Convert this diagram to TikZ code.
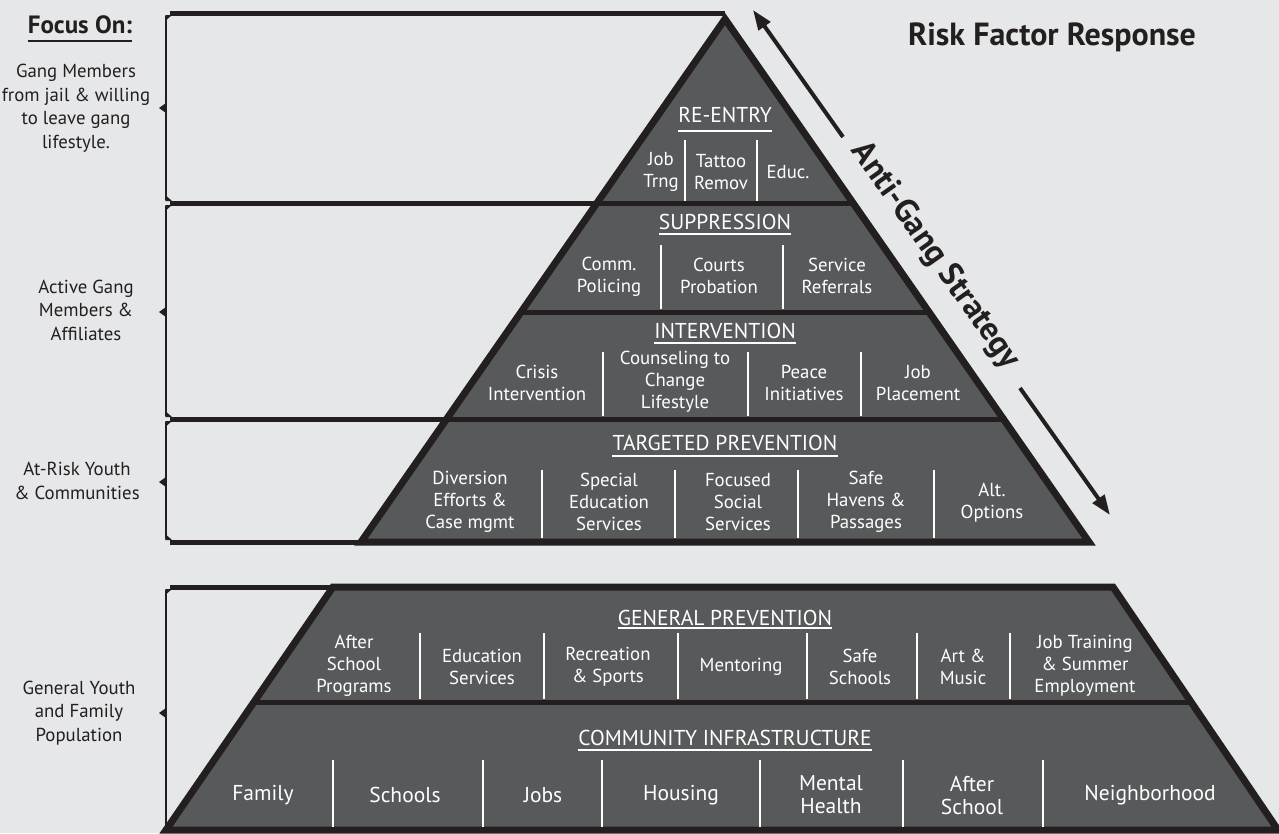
\documentclass[tikz,border=0pt]{standalone}
\usepackage{fontspec}
\setmainfont{PT Sans}
\usetikzlibrary{arrows.meta}
\definecolor{bg}{HTML}{E6E7E8}
\definecolor{dk}{HTML}{58595B}
\definecolor{ink}{HTML}{231F20}
\begin{document}
\begin{tikzpicture}[x=1pt,y=-1pt,
  body/.style={text=white,align=center,inner sep=0pt,font=\fontsize{18.8}{22}\selectfont},
  big/.style={text=white,align=center,inner sep=0pt,font=\fontsize{21.5}{23}\selectfont},
  head/.style={text=white,inner sep=0pt,anchor=base,font=\fontsize{21.5}{22}\selectfont},
  sidetxt/.style={text=ink,align=center,inner sep=0pt,font=\fontsize{18.8}{23.5}\selectfont},
  sepline/.style={draw=white,line width=2.5pt},
  uline/.style={draw=white,line width=1.6pt},
  band/.style={draw=ink,line width=5pt},
  shell/.style={draw=ink,line width=7pt,line join=miter},
  brk/.style={draw=ink,line width=1.4pt},
  strat/.style={draw=ink,line width=4pt,-{Triangle[length=20pt,width=14pt]}}]
\useasboundingbox (0,0) rectangle (1279,833);
\fill[bg] (0,0) rectangle (1279,833);

% ---------- main pyramid ----------
\fill[dk] (361,542) -- (725,19) -- (1089,542) -- cycle;
\draw[band] (170,13) -- (725,13);
\draw[band] (170,203) -- (853,203);
\draw[band] (521,312) -- (929,312);
\draw[band] (170,419) -- (1003,419);
\draw[band] (170,542) -- (1089,542);
\draw[shell] (361,542) -- (725,19) -- (1089,542) -- cycle;

% ---------- bottom trapezoid ----------
\fill[dk] (166,830) -- (333,587) -- (1113,587) -- (1278,830) -- cycle;
\draw[band] (170,587) -- (1113,587);
\draw[band] (254,702) -- (1192,702);
\draw[shell] (166,830) -- (333,587) -- (1113,587) -- (1278,830) -- cycle;

% ---------- left brackets ----------
\foreach \t/\b/\m in {16/200/108, 206/416/312, 422/539/482, 590/828/713}{
  \draw[brk] (166,\t) -- (166,\b);
  \fill[ink] (165.3,\t-1) -- (172,\t-1) -- (165.3,\t+5) -- cycle;
  \fill[ink] (165.3,\b+1) -- (172,\b+1) -- (165.3,\b-5) -- cycle;
  \fill[ink] (159,\m) -- (166,\m-5) -- (166,\m+5) -- cycle;
}

% ---------- left texts ----------
\node[text=ink,inner sep=0pt,anchor=base,font=\fontsize{25}{28}\bfseries\selectfont] (focus) at (80,33) {Focus On:};
\draw[ink,line width=1.6pt] ([yshift=-8pt]focus.base west) -- ([yshift=-8pt]focus.base east);
\node[sidetxt] (s1) at (76,108) {Gang Members\\from jail \& willing\\to leave gang\\lifestyle.};
\node[sidetxt] (s2) at (86,310) {Active Gang\\Members \&\\Affiliates};
\node[sidetxt] (s3) at (77,481) {At-Risk Youth\\\& Communities};
\node[sidetxt] (s4) at (79,713) {General Youth\\and Family\\Population};

% ---------- right title and strategy arrow ----------
\node[text=ink,inner sep=0pt,font=\fontsize{32}{36}\bfseries\selectfont] (rfr) at (1052,37) {Risk Factor Response};
\coordinate (a1) at (843,137);
\coordinate (a2) at (753,10);
\coordinate (b1) at (1020,388);
\coordinate (b2) at (1110,515);
\draw[strat] (a1) -- (a2);
\draw[strat] (b1) -- (b2);
\node[text=ink,inner sep=0pt,rotate=-54.7,font=\fontsize{33}{36}\bfseries\selectfont] (ags) at (935,256) {Anti-Gang Strategy};

% ---------- RE-ENTRY ----------
\node[head] (h1) at (725,122) {RE-ENTRY};
\draw[uline] (h1.base west |- 0,131) -- (h1.base east |- 0,131);
\draw[sepline] (685,140) -- (685,201);
\draw[sepline] (757,140) -- (757,201);
\node[body] (r1) at (661,172) {Job\\Trng};
\node[body] (r2) at (721,172) {Tattoo\\Remov};
\node[body] (r3) at (788,172) {Educ.};

% ---------- SUPPRESSION ----------
\node[head] (h2) at (725,229) {SUPPRESSION};
\draw[uline] (h2.base west |- 0,234) -- (h2.base east |- 0,234);
\draw[sepline] (661,245) -- (661,309);
\draw[sepline] (783,245) -- (783,309);
\node[body] (p1) at (609,277) {Comm.\\Policing};
\node[body] (p2) at (719,276) {Courts\\Probation};
\node[body] (p3) at (837,276) {Service\\Referrals};

% ---------- INTERVENTION ----------
\node[head] (h3) at (725,338) {INTERVENTION};
\draw[uline] (h3.base west |- 0,343) -- (h3.base east |- 0,343);
\draw[sepline] (603,352) -- (603,416);
\draw[sepline] (748,352) -- (748,416);
\draw[sepline] (861,352) -- (861,416);
\node[body] (i1) at (537,383) {Crisis\\Intervention};
\node[body] (i2) at (675,382) {Counseling to\\Change\\Lifestyle};
\node[body] (i3) at (804,383) {Peace\\Initiatives};
\node[body] (i4) at (918,383) {Job\\Placement};

% ---------- TARGETED PREVENTION ----------
\node[head] (h4) at (725,450) {TARGETED PREVENTION};
\draw[uline] (h4.base west |- 0,456) -- (h4.base east |- 0,456);
\draw[sepline] (542,470) -- (542,538);
\draw[sepline] (675,470) -- (675,538);
\draw[sepline] (798,470) -- (798,538);
\draw[sepline] (934,470) -- (934,538);
\node[body] (t1) at (470,502) {Diversion\\Efforts \&\\Case mgmt};
\node[body] (t2) at (609,502) {Special\\Education\\Services};
\node[body] (t3) at (738,502) {Focused\\Social\\Services};
\node[body] (t4) at (866,502) {Safe\\Havens \&\\Passages};
\node[body] (t5) at (992,503) {Alt.\\Options};

% ---------- GENERAL PREVENTION ----------
\node[head] (h5) at (725,625) {GENERAL PREVENTION};
\draw[uline] (h5.base west |- 0,628) -- (h5.base east |- 0,628);
\foreach \x in {420,544,678,807,917,1010}{\draw[sepline] (\x,633) -- (\x,699);}
\node[body] (g1) at (354,666) {After\\School\\Programs};
\node[body] (g2) at (482,667) {Education\\Services};
\node[body] (g3) at (608,667) {Recreation\\\& Sports};
\node[body] (g4) at (741,667) {Mentoring};
\node[body] (g5) at (860,667) {Safe\\Schools};
\node[body] (g6) at (963,667) {Art \&\\Music};
\node[body] (g7) at (1085,666) {Job Training\\\& Summer\\Employment};

% ---------- COMMUNITY INFRASTRUCTURE ----------
\node[head] (h6) at (725,745) {COMMUNITY INFRASTRUCTURE};
\draw[uline] (h6.base west |- 0,750) -- (h6.base east |- 0,750);
\foreach \x in {333,483,602,760,903,1043}{\draw[sepline] (\x,760) -- (\x,827);}
\node[big] (c1) at (263,795) {Family};
\node[big] (c2) at (405,795) {Schools};
\node[big] (c3) at (543,795) {Jobs};
\node[big] (c4) at (681,795) {Housing};
\node[big] (c5) at (831,795) {Mental\\Health};
\node[big] (c6) at (972,795) {After\\School};
\node[big] (c7) at (1150,795) {Neighborhood};
\end{tikzpicture}
\end{document}
